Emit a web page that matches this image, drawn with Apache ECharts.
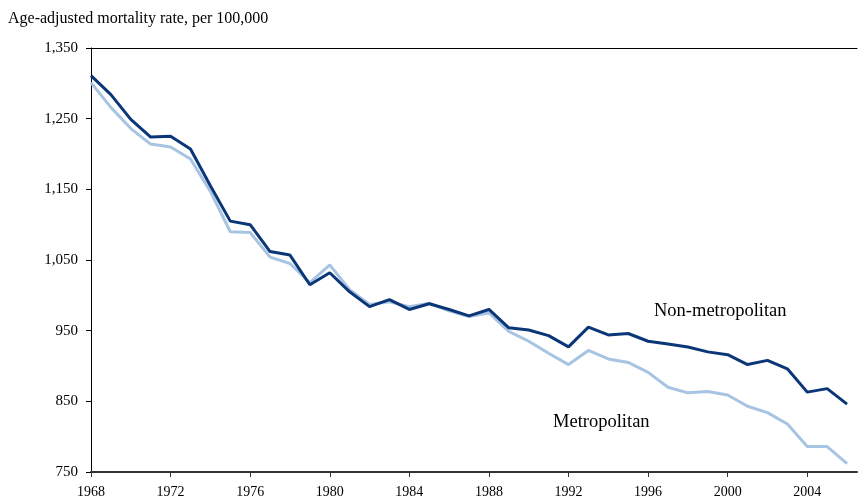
<!DOCTYPE html>
<html>
<head>
<meta charset="utf-8">
<script src="https://cdn.jsdelivr.net/npm/echarts@6/dist/echarts.min.js"></script>
<style>html,body{margin:0;padding:0;background:#fff}#c{width:858px;height:504px}</style>
</head>
<body>
<div id="c"></div>
<script>
const years = [1968,1969,1970,1971,1972,1973,1974,1975,1976,1977,1978,1979,1980,1981,1982,1983,1984,1985,1986,1987,1988,1989,1990,1991,1992,1993,1994,1995,1996,1997,1998,1999,2000,2001,2002,2003,2004,2005,2006];
const nonMetro = [1311,1284,1249,1224,1225,1207,1155,1105,1100,1062,1057,1015,1032,1005,984,994,980,988,980,971,980,954,951,943,927,955,944,946,935,931,927,920,916,902,908,896,863,868,846];
const metro = [1301,1266,1236,1214,1210,1193,1147,1090,1089,1054,1045,1018,1043,1008,987,991,984,989,978,970,975,949,935,918,902,922,910,905,891,870,862,864,859,843,834,818,786,786,762];
const xTicks = [1968,1972,1976,1980,1984,1988,1992,1996,2000,2004];
const yTicks = [750,850,950,1050,1150,1250,1350];
const titleText = 'Age-adjusted mortality rate, per 100,000';
const nonMetroName = 'Non-metropolitan';
const metroName = 'Metropolitan';

const font = '"Liberation Serif","Times New Roman",serif';
const chart = echarts.init(document.getElementById('c'), null, {renderer:'canvas'});
chart.setOption({
  animation: false,
  backgroundColor: '#fff',
  grid: {left: 91, right: 1, top: 48, bottom: 32, containLabel: false},
  title: {text: titleText, left: 3, top: 6, textStyle: {fontFamily: font, fontSize: 16, fontWeight: 'normal', color: '#000'}},
  xAxis: [{
    type: 'value', min: 1968, max: 2006.5,
    axisLine: {show: true, onZero: false, lineStyle: {color: '#333', width: 2}},
    axisTick: {show: true, customValues: xTicks, length: 5, lineStyle: {color: '#333'}},
    axisLabel: {customValues: xTicks, margin: 13, fontFamily: font, fontSize: 14, color: '#000', formatter: v => String(v)},
    splitLine: {show: false}
  }, {
    type: 'value', position: 'top', min: 1968, max: 2006.5,
    axisLine: {show: true, onZero: false, lineStyle: {color: '#000', width: 1}},
    axisTick: {show: false}, axisLabel: {show: false}, splitLine: {show: false}
  }],
  yAxis: {
    type: 'value', min: 750, max: 1350,
    axisLine: {show: true, onZero: false, lineStyle: {color: '#000', width: 1}},
    axisTick: {show: true, customValues: yTicks, length: 5, lineStyle: {color: '#000'}},
    axisLabel: {customValues: yTicks, margin: 13, fontFamily: font, fontSize: 15, color: '#000',
      formatter: v => v.toLocaleString('en-US')},
    splitLine: {show: false}
  },
  series: [{
    name: metroName, type: 'line', symbol: 'none', z: 2,
    data: years.map((y,i) => [y, metro[i]]),
    lineStyle: {color: '#a7c4e2', width: 3}
  }, {
    name: nonMetroName, type: 'line', symbol: 'none', z: 3,
    data: years.map((y,i) => [y, nonMetro[i]]),
    lineStyle: {color: '#0b3677', width: 3}
  }],
  graphic: [
    {type: 'text', left: 654, top: 302, style: {text: nonMetroName, font: '18.5px ' + font, fill: '#000'}},
    {type: 'text', left: 553, top: 413, style: {text: metroName, font: '18.5px ' + font, fill: '#000'}}
  ]
});
</script>
</body>
</html>
